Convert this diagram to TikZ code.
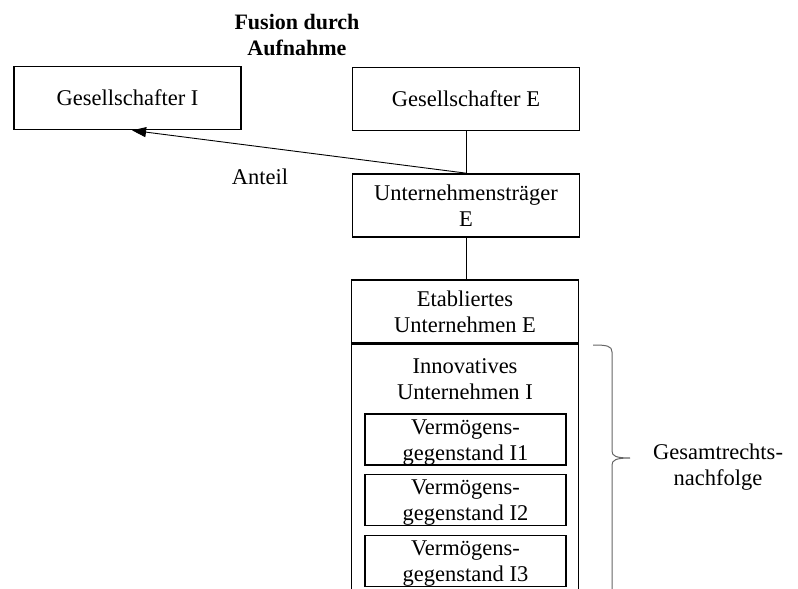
\documentclass[tikz,border=0pt]{standalone}
\usepackage{fontspec}
\setmainfont{Liberation Serif}
\usetikzlibrary{arrows.meta,calc}
\begin{document}
\begin{tikzpicture}[x=1pt,y=-1pt,
  every node/.style={font=\fontsize{22.5}{26}\selectfont, align=center, inner sep=0pt},
  box/.style={draw, line width=1.7pt, minimum width=227pt, minimum height=63pt},
  smallbox/.style={draw, line width=1.7pt, minimum width=201pt, minimum height=51pt},
  conn/.style={line width=0.9pt},
  brc/.style={line width=1pt, draw=black!60}]
\useasboundingbox (0,0) rectangle (798,589);
\clip (0,0) rectangle (798,589);
\node[font=\fontsize{22}{26}\selectfont\bfseries] (title) at (297,35) {Fusion durch\\Aufnahme};
\node[box] (gi) at (127.5,98) {Gesellschafter I};
\node[box] (ge) at (466,99) {Gesellschafter E};
\node[box] (ut) at (466,205.5) {Unternehmensträger\\E};
\node[box] (et) at (465,311.5) {Etabliertes\\Unternehmen E};
\node[draw, line width=1.7pt, minimum width=227pt, minimum height=290pt, anchor=north] (inno) at (465,343) {};
\node (innotxt) at (465,379) {Innovatives\\Unternehmen I};
\node[smallbox] (v1) at (465.5,439.5) {};
\node at (465.5,442.5) {Vermögens-\\gegenstand I1};
\node[smallbox] (v2) at (465.5,500) {};
\node at (465.5,503) {Vermögens-\\gegenstand I2};
\node[smallbox] (v3) at (465.5,561) {};
\node at (465.5,564) {Vermögens-\\gegenstand I3};
\draw[conn] (ge.south) -- (ut.north);
\draw[conn] (ut.south) -- (ut.south |- et.north);
\coordinate (gitip) at ($(gi.south west)!0.52!(gi.south east)$);
\draw[conn, -{Triangle[length=14pt,width=10pt]}] (ut.north) -- (gitip);
\node (anteil) at (260,177) {Anteil};
\draw[brc] (593,345) .. controls (607,345) and (612,346) .. (612,352) -- (612,451)
  .. controls (612,456) and (616,458) .. (630,458)
  .. controls (616,458) and (612,460) .. (612,465) -- (612,600);
\node (gr) at (718,467) {Gesamtrechts-\\nachfolge};
\end{tikzpicture}
\end{document}
